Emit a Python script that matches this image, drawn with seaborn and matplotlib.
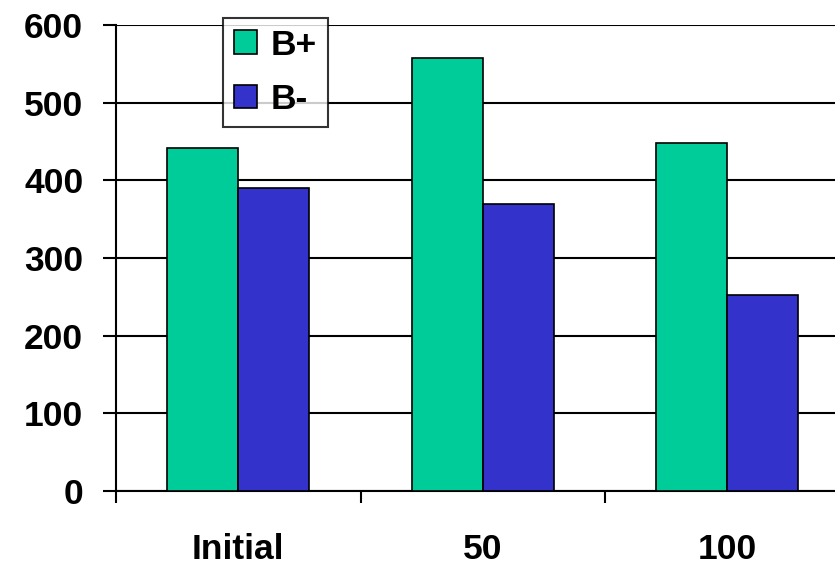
import matplotlib
matplotlib.use("Agg")
import matplotlib.pyplot as plt
import seaborn as sns
import pandas as pd
from matplotlib.ticker import FixedLocator

categories = ["Initial", "50", "100"]
series = ["B+", "B-"]
b_plus = [441, 557, 448]
b_minus = [390, 369, 252]
colors = ["#00CC99", "#3333CC"]
yticks = [0, 100, 200, 300, 400, 500, 600]

df = pd.DataFrame({
    "cat": categories * 2,
    "series": [series[0]] * 3 + [series[1]] * 3,
    "value": b_plus + b_minus,
})

sns.set_style("white")
plt.rcParams["font.family"] = ["Liberation Sans", "DejaVu Sans"]
plt.rcParams["font.weight"] = "bold"
plt.rcParams["text.color"] = "black"
plt.rcParams["xtick.color"] = "black"
plt.rcParams["ytick.color"] = "black"

fig = plt.figure(figsize=(8.35, 5.66), dpi=100)
ax = fig.add_axes([116 / 835, 75 / 566, 1 - 116 / 835, (491 - 25) / 566])

sns.barplot(data=df, x="cat", y="value", hue="series", order=categories,
            hue_order=series, palette=colors, width=0.58, saturation=1,
            edgecolor="black", linewidth=1.2, ax=ax, zorder=3)

ax.set_ylim(0, 600)
ax.set_xlim(-0.5, 2.44)
ax.set_yticks(yticks)
ax.set_yticklabels([str(v) for v in yticks], fontsize=25.5, fontweight="bold", color="black")
ax.yaxis.grid(True, color="black", linewidth=1.5, zorder=0)
ax.set_axisbelow(True)
ax.set_xlabel("")
ax.set_ylabel("")

ax.set_xticks(range(len(categories)))
ax.set_xticklabels(categories, fontsize=25.5, fontweight="bold", color="black")
ax.tick_params(axis="x", which="major", length=0, pad=30)
ax.xaxis.set_minor_locator(FixedLocator([-0.5, 0.5, 1.5, 2.5]))
ax.tick_params(axis="x", which="minor", length=8.6, width=1.5, color="black", direction="out", bottom=True)
ax.tick_params(axis="y", length=9.5, width=1.5, color="black", direction="out", left=True, pad=14)

for s in ["top", "right"]:
    ax.spines[s].set_visible(False)
for s in ["left", "bottom"]:
    ax.spines[s].set_color("black")
    ax.spines[s].set_linewidth(1.5)

handles, labels = ax.get_legend_handles_labels()
leg = ax.legend(handles, labels, loc="upper left", bbox_to_anchor=((223 - 116) / 719, (491 - 18) / 466),
                prop={"size": 25.5, "weight": "bold"}, frameon=True, fancybox=False,
                edgecolor="black", handlelength=0.65, handleheight=0.65, handletextpad=0.4,
                borderpad=0.3, labelspacing=0.6, borderaxespad=0)
leg.get_frame().set_linewidth(1.5)
leg.set_zorder(5)
for t in leg.get_texts():
    t.set_color("black")

fig.savefig("out.png", dpi=100)
